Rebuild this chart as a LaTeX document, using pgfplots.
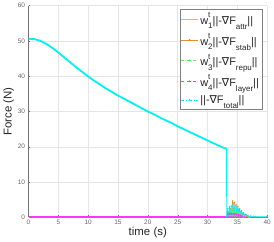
\documentclass[border=0pt]{standalone}
\usepackage{fontspec}
\setmainfont{Liberation Sans}
\newfontfamily\dejavu{DejaVu Sans}
\usepackage{pgfplots}
\pgfplotsset{compat=1.18}
\definecolor{wone}{rgb}{0.55,0.78,0.95}
\definecolor{wtwo}{rgb}{0.90,0.55,0.20}
\definecolor{wthree}{rgb}{0.35,0.95,0.35}
\definecolor{wfour}{rgb}{1.0,0.2,1.0}
\definecolor{wtot}{rgb}{0.0,0.95,0.95}
\newcommand{\sm}[1]{{\fontsize{8}{8}\selectfont #1}}
\newcommand{\wt}[1]{w\rlap{\raisebox{0.6em}{\sm{t}}}\raisebox{-0.4em}{\sm{#1}}}
\newcommand{\nF}[1]{||-{\dejavu ∇}F\raisebox{-0.45em}{\sm{#1}}||}
\begin{document}
\begin{tikzpicture}
\begin{axis}[
  scale only axis,
  width=240pt, height=213pt,
  xmin=0, xmax=40, ymin=0, ymax=60,
  xtick={0,5,...,40}, ytick={0,10,...,60},
  axis x line*=bottom, axis y line*=left,
  axis line style={black!55},
  tick align=inside, major tick length=2pt,
  tick style={black!55},
  grid=major, grid style={black!10},
  tick label style={font=\fontsize{6.5}{7}\selectfont, text=black!60},
  /pgf/number format/assume math mode=true,
  xticklabel style={yshift=1pt},
  xlabel={time (s)}, ylabel={Force (N)},
  label style={font=\fontsize{11.5}{12}\selectfont, text=black!85},
  xlabel style={yshift=4pt},
  ylabel style={yshift=-3pt},
  legend style={at={(0.979,0.986)}, anchor=north east, draw=black!50,
    fill=white, font=\fontsize{11}{12}\selectfont, row sep=3.5pt,
    inner xsep=1pt, inner ysep=2pt, text=black!85},
  legend cell align=left,
]
% flat segments
\addplot[wthree, line width=0.8pt, forget plot] coordinates {(0,0.35) (33.2,0.35)};
\addplot[wfour, line width=2.2pt, forget plot] coordinates {(0,0) (33.2,0)};
% after-drop spikes
\addplot[wthree, line width=0.4pt, mark=triangle*, mark size=0.9pt, forget plot] coordinates {
(33.3,0.2) (33.4,1.2) (33.5,0.2) (33.7,1.6) (33.8,0.3) (34.0,1.8) (34.1,0.3) (34.3,2.0) (34.4,0.4) (34.6,1.6) (34.7,0.3) (34.9,1.3) (35.0,0.3) (35.2,1.0) (35.3,0.2) (35.5,0.8) (35.6,0.2) (35.8,0.5) (36.0,0.1) (36.4,0.3) (37.0,0.1) (40,0.1)};
\addplot[wtwo, line width=0.4pt, mark=*, mark size=0.6pt, forget plot] coordinates {
(33.3,0) (33.4,1.5) (33.6,0.3) (33.8,2.5) (34.0,0.5) (34.2,4.6) (34.3,1.0) (34.5,4.2) (34.6,1.0) (34.8,3.5) (34.9,0.8) (35.1,3.0) (35.2,0.6) (35.4,2.4) (35.5,0.5) (35.7,1.8) (35.8,0.4) (36.0,1.2) (36.2,0.3) (36.4,0.8) (36.6,0.2) (36.8,0.4) (37.2,0.1) (40,0)};
\addplot[wtot, line width=0.5pt, mark=*, mark size=0.6pt, forget plot] coordinates {
(33.25,0.3) (33.4,2.5) (33.5,0.4) (33.7,3.0) (33.8,0.5) (34.0,3.2) (34.1,0.6) (34.3,3.8) (34.4,0.8) (34.6,3.0) (34.7,0.6) (34.9,2.6) (35.0,0.5) (35.2,2.2) (35.3,0.4) (35.5,1.6) (35.6,0.3) (35.8,1.2) (35.9,0.3) (36.1,0.9) (36.3,0.2) (36.5,0.6) (36.8,0.3) (37.2,0.3) (38,0.2) (40,0.2)};
\addplot[wfour, line width=0.5pt, mark=*, mark size=0.6pt, forget plot] coordinates {
(33.3,0) (33.4,1.0) (33.5,0.1) (33.7,1.1) (33.8,0.1) (34.0,1.0) (34.1,0.1) (34.3,1.0) (34.4,0.1) (34.6,0.9) (34.7,0.1) (34.9,0.8) (35.0,0.1) (35.2,0.7) (35.3,0.1) (35.5,0.5) (35.6,0.05) (35.8,0.3) (36.2,0.05) (40,0)};
% main curve
\addplot[wtot, line width=1.8pt, forget plot] coordinates {
(0,50.6) (1,50.5) (2,50.0) (3,49.1) (4,48.0) (5,46.7) (6,45.3) (7,43.9) (8,42.5) (9,41.2) (10,39.9) (11,38.7) (12,37.6) (13,36.5) (14,35.5) (15,34.5) (16,33.6) (17,32.7) (18,31.8) (19,30.9) (20,30.0) (21,29.2) (22,28.3) (23,27.5) (24,26.7) (25,25.8) (26,25.0) (27,24.2) (28,23.4) (29,22.6) (30,21.8) (31,21.0) (32,20.2) (33.2,19.4)};
\addplot[wtot, line width=1.0pt, forget plot] coordinates {(33.2,19.4) (33.25,0.3)};
% legend
\addlegendimage{wone, line width=0.6pt}
\addlegendentry{\wt{1}\nF{attr}}
\addlegendimage{wtwo, line width=0.5pt, mark=*, mark size=0.6pt}
\addlegendentry{\wt{2}\nF{stab}}
\addlegendimage{wthree, line width=0.5pt, dashed, mark=triangle*, mark size=1.1pt}
\addlegendentry{\wt{3}\nF{repu}}
\addlegendimage{wfour, line width=0.5pt, dashed, mark=*, mark size=0.6pt}
\addlegendentry{\wt{4}\nF{layer}}
\addlegendimage{wtot, line width=0.5pt, dash dot, mark=*, mark size=0.6pt}
\addlegendentry{\nF{total}}
\end{axis}
\end{tikzpicture}
\end{document}
